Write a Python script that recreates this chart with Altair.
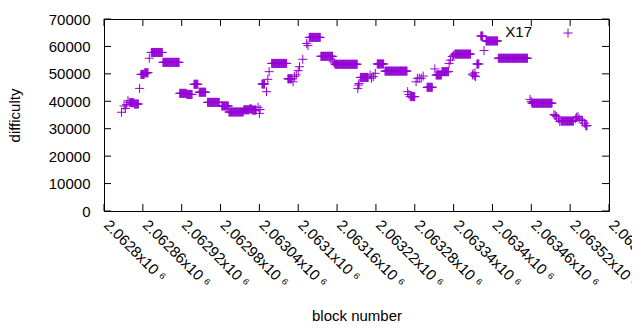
import json
import altair as alt
import pandas as pd

BASE = 2062800
# runs of consecutive blocks with the same difficulty (offsets from BASE)
run_start = [27, 31, 33, 35, 37, 39, 41, 47, 55, 57, 63, 70, 73, 91, 117, 128, 139, 147, 160, 182,
             193, 216, 225, 229, 238, 240, 241, 244, 251, 253, 255, 259, 284, 292, 294, 297, 300, 302, 307, 313,
             315, 317, 335, 354, 356, 357, 392, 393, 394, 396, 411, 413, 416, 419, 422, 434, 469, 471, 473, 482,
             484, 487, 490, 493, 499, 511, 513, 522, 533, 535, 538, 540, 542, 569, 570, 572, 573, 574, 576, 582,
             587, 590, 609, 658, 660, 661, 695, 697, 699, 702, 704, 706, 728, 730, 732, 734, 737, 739, 742, 744]
run_end = [27, 31, 33, 35, 37, 39, 46, 53, 55, 62, 68, 70, 90, 116, 127, 136, 145, 157, 178, 192,
           215, 224, 228, 235, 238, 240, 241, 248, 251, 253, 255, 282, 290, 292, 294, 297, 300, 302, 307, 313,
           315, 334, 353, 354, 356, 391, 392, 393, 394, 408, 411, 413, 416, 419, 432, 468, 469, 471, 480, 482,
           484, 487, 490, 493, 507, 511, 521, 532, 533, 535, 538, 540, 566, 569, 570, 572, 573, 574, 579, 585,
           587, 608, 654, 658, 660, 692, 695, 697, 699, 702, 704, 725, 728, 730, 732, 734, 737, 739, 742, 746]
run_value = [36000, 38300, 37400, 38800, 40200, 39600, 39500, 39000, 44700, 49800, 50400, 55700, 57800, 54200, 42900, 42500, 46200, 43300, 39600, 38300,
             36100, 36900, 37200, 36800, 37800, 35600, 37000, 46300, 43500, 48000, 50800, 53800, 48200, 47100, 49000, 49600, 51150, 52600, 55300, 61100,
             60300, 63300, 56400, 54400, 54000, 53500, 44700, 45900, 46500, 48700, 49600, 48400, 49000, 50200, 53600, 51000, 43500, 42500, 41700, 47100,
             48400, 48400, 48400, 49200, 45100, 51800, 49600, 50800, 53800, 55000, 56300, 56800, 57200, 49600, 50000, 49300, 50400, 49000, 53600, 63800,
             58500, 62000, 55700, 40700, 39900, 39300, 35200, 34800, 34400, 33600, 32600, 32800, 33600, 34200, 34400, 33600, 33200, 33000, 32000, 31100]

x_ticks = [2062800, 2062860, 2062920, 2062980, 2063040, 2063100, 2063160,
           2063220, 2063280, 2063340, 2063400, 2063460, 2063520, 2063580]
x_tick_labels = ["2.0628x10 ⁶", "2.06286x10 ⁶", "2.06292x10 ⁶", "2.06298x10 ⁶", "2.06304x10 ⁶",
                 "2.0631x10 ⁶", "2.06316x10 ⁶", "2.06322x10 ⁶", "2.06328x10 ⁶", "2.06334x10 ⁶",
                 "2.0634x10 ⁶", "2.06346x10 ⁶", "2.06352x10 ⁶", "2.06358x10 ⁶"]
y_ticks = [0, 10000, 20000, 30000, 40000, 50000, 60000, 70000]
series_name = "X17"

rows = []
for s, e, v in zip(run_start, run_end, run_value):
    for b in range(s, e + 1):
        rows.append({"block": BASE + b, "difficulty": v})
df = pd.DataFrame(rows)

W, H = 505, 192
PURPLE = "#9400D3"
FONT = "Liberation Sans"
PLUS = "M-1,0H1M0,-1V1"

label_expr = ("[" + ",".join(json.dumps(l, ensure_ascii=False) for l in x_tick_labels) + "][indexof(["
              + ",".join(str(v) for v in x_ticks) + "], datum.value)]")

xscale = alt.Scale(domain=[x_ticks[0], x_ticks[-1]], nice=False, zero=False)
yscale = alt.Scale(domain=[y_ticks[0], y_ticks[-1]], nice=False)

xaxis = alt.Axis(
    values=x_ticks, labelExpr=label_expr, labelAngle=45, labelAlign="left",
    labelBaseline="top", ticks=False, tickSize=0, domain=False, grid=False,
    labelPadding=6, labelOffset=7, labelFont=FONT, labelFontSize=15, labelColor="black",
    labelOverlap=False, labelBound=False, labelFlush=False,
    title="block number", titleFont=FONT, titleFontSize=15, titleFontWeight="normal",
    titleColor="black", titleY=109, titleBaseline="alphabetic")
yaxis = alt.Axis(
    values=y_ticks, format="d", ticks=False, tickSize=0, domain=False, grid=False,
    labelPadding=14, labelFont=FONT, labelFontSize=15, labelColor="black",
    labelOverlap=False, labelBound=False, labelFlush=False,
    title="difficulty", titleFont=FONT, titleFontSize=15, titleFontWeight="normal",
    titleColor="black", titleX=-85, titleY=96, titleAngle=-90,
    titleBaseline="alphabetic", titleAlign="center")

points = alt.Chart(df).mark_point(
    shape=PLUS, filled=False, size=81, strokeWidth=1, color=PURPLE, opacity=1
).encode(
    x=alt.X("block:Q", scale=xscale, axis=xaxis),
    y=alt.Y("difficulty:Q", scale=yscale, axis=yaxis),
)

xt = pd.DataFrame({"block": x_ticks})
yt = pd.DataFrame({"difficulty": y_ticks})
tick_len = 7
x_bottom = alt.Chart(xt).mark_rule(color="black", strokeWidth=1).encode(
    x=alt.X("block:Q", scale=xscale, axis=xaxis), y=alt.value(H), y2=alt.value(H - tick_len))
x_top = alt.Chart(xt).mark_rule(color="black", strokeWidth=1).encode(
    x=alt.X("block:Q", scale=xscale, axis=xaxis), y=alt.value(0), y2=alt.value(tick_len))
y_left = alt.Chart(yt).mark_rule(color="black", strokeWidth=1).encode(
    y=alt.Y("difficulty:Q", scale=yscale, axis=yaxis), x=alt.value(0), x2=alt.value(tick_len))
y_right = alt.Chart(yt).mark_rule(color="black", strokeWidth=1).encode(
    y=alt.Y("difficulty:Q", scale=yscale, axis=yaxis), x=alt.value(W - tick_len), x2=alt.value(W))

leg = pd.DataFrame({"name": [series_name]})
leg_text = alt.Chart(leg).mark_text(
    align="right", baseline="middle", font=FONT, fontSize=15, color="black"
).encode(text="name:N", x=alt.value(428), y=alt.value(13))
leg_pt = alt.Chart(leg).mark_point(
    shape=PLUS, filled=False, size=81, strokeWidth=1, color=PURPLE, opacity=1
).encode(x=alt.value(464), y=alt.value(14))

chart = alt.layer(points, x_bottom, x_top, y_left, y_right, leg_text, leg_pt).properties(
    width=W, height=H,
    autosize=alt.AutoSizeParams(type="none"),
    padding={"left": 96, "top": 11, "right": 23, "bottom": 111},
    background="white",
).configure_view(stroke="black", strokeWidth=1).configure_axis(labelOverlap=False)

chart.save("out.html", embed_options={"renderer": "svg", "actions": False})
